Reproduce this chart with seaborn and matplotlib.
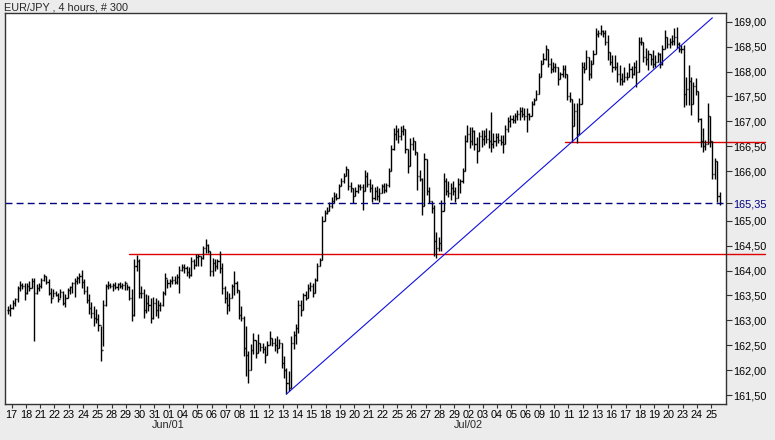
import numpy as np
import pandas as pd
import matplotlib
matplotlib.use("Agg")
import matplotlib.pyplot as plt
import matplotlib.transforms as mtransforms
import seaborn as sns

# EUR/JPY 4h bars (300)
highs = [
    163.29, 163.33, 163.40, 163.44, 163.70, 163.80, 163.76, 163.76, 163.76, 163.80,
    163.86, 163.86, 163.74, 163.76, 163.86, 163.94, 163.90, 163.84, 163.66, 163.64,
    163.60, 163.56, 163.64, 163.60, 163.54, 163.66, 163.70, 163.78, 163.86, 163.90,
    163.96, 164.02, 163.84, 163.70, 163.54, 163.36, 163.29, 163.23, 163.13, 162.89,
    163.40, 163.74, 163.80, 163.76, 163.76, 163.78, 163.76, 163.78, 163.76, 163.80,
    163.74, 163.70, 163.64, 164.24, 164.32, 164.24, 163.70, 163.64, 163.54, 163.50,
    163.44, 163.46, 163.44, 163.40, 163.36, 163.60, 163.96, 163.84, 163.84, 163.90,
    163.90, 163.94, 164.10, 164.14, 164.14, 164.10, 164.08, 164.28, 164.24, 164.34,
    164.34, 164.30, 164.50, 164.64, 164.54, 164.40, 164.26, 164.24, 164.24, 164.40,
    164.16, 163.70, 163.60, 163.56, 163.74, 164.00, 163.80, 163.62, 163.29, 163.09,
    162.89, 162.39, 162.53, 162.75, 162.60, 162.73, 162.55, 162.55, 162.48, 162.59,
    162.79, 162.65, 162.65, 162.69, 162.63, 162.55, 162.29, 162.04, 161.98, 162.69,
    162.79, 162.93, 163.40, 163.40, 163.56, 163.60, 163.74, 163.78, 163.76, 163.86,
    164.16, 164.26, 165.10, 165.21, 165.27, 165.37, 165.47, 165.57, 165.55, 165.75,
    165.87, 165.96, 166.10, 166.05, 165.79, 165.65, 165.67, 165.75, 165.75, 165.75,
    166.02, 165.98, 165.85, 165.75, 165.69, 165.71, 165.65, 165.75, 165.77, 165.77,
    166.06, 166.52, 166.86, 166.92, 166.86, 166.90, 166.92, 166.85, 166.45, 166.66,
    166.68, 166.60, 166.38, 166.02, 165.87, 166.36, 166.25, 165.67, 165.40, 165.31,
    164.77, 164.68, 165.41, 165.96, 165.87, 165.81, 165.77, 165.81, 165.67, 165.87,
    165.85, 166.06, 166.72, 166.92, 166.88, 166.88, 166.82, 166.68, 166.78, 166.82,
    166.82, 166.86, 166.82, 167.19, 166.76, 166.76, 166.76, 166.72, 166.72, 166.92,
    167.08, 167.12, 167.12, 167.16, 167.23, 167.29, 167.29, 167.27, 167.27, 167.16,
    167.41, 167.47, 167.63, 167.97, 168.23, 168.38, 168.54, 168.45, 168.27, 168.19,
    168.17, 168.10, 167.99, 168.13, 168.13, 167.95, 167.59, 167.45, 167.37, 167.37,
    167.47, 168.19, 168.19, 168.44, 168.30, 168.23, 168.44, 168.88, 168.84, 168.94,
    168.84, 168.84, 168.74, 168.40, 168.33, 168.33, 168.19, 168.13, 167.97, 168.09,
    167.99, 168.17, 168.11, 168.19, 168.23, 168.70, 168.70, 168.60, 168.48, 168.44,
    168.35, 168.44, 168.33, 168.40, 168.38, 168.54, 168.84, 168.70, 168.68, 168.74,
    168.88, 168.90, 168.60, 168.54, 168.54, 167.89, 168.13, 167.89, 167.79, 167.87,
    167.60, 167.06, 166.86, 166.62, 167.37, 167.10, 166.60, 166.26, 166.20, 165.57,
]
lows = [
    163.13, 163.09, 163.23, 163.29, 163.36, 163.60, 163.64, 163.40, 163.54, 163.60,
    163.66, 162.59, 163.54, 163.60, 163.66, 163.80, 163.74, 163.50, 163.34, 163.46,
    163.48, 163.36, 163.44, 163.30, 163.26, 163.44, 163.54, 163.56, 163.46, 163.74,
    163.76, 163.66, 163.54, 163.34, 163.13, 163.05, 162.89, 162.95, 162.79, 162.18,
    162.49, 163.28, 163.64, 163.66, 163.60, 163.64, 163.62, 163.66, 163.64, 163.62,
    163.62, 163.40, 162.99, 163.09, 164.00, 163.44, 163.44, 163.05, 163.15, 163.19,
    162.95, 163.03, 163.09, 163.05, 163.19, 163.28, 163.52, 163.66, 163.68, 163.74,
    163.74, 163.74, 163.56, 164.00, 163.96, 163.90, 163.86, 163.90, 164.04, 164.10,
    164.10, 164.10, 164.24, 164.36, 164.36, 163.90, 163.90, 164.00, 164.04, 163.96,
    163.54, 163.34, 163.13, 163.19, 163.45, 163.50, 163.56, 163.03, 162.99, 162.28,
    161.88, 161.74, 162.00, 162.33, 162.25, 162.35, 162.39, 162.35, 162.14, 162.30,
    162.50, 162.49, 162.39, 162.35, 162.45, 162.04, 161.84, 161.52, 161.58, 161.65,
    162.43, 162.53, 162.75, 163.09, 163.20, 163.40, 163.45, 163.60, 163.46, 163.55,
    163.80, 164.10, 164.22, 165.00, 165.13, 165.20, 165.25, 165.35, 165.41, 165.45,
    165.70, 165.77, 165.90, 165.61, 165.57, 165.35, 165.50, 165.55, 165.61, 165.21,
    165.60, 165.67, 165.57, 165.37, 165.41, 165.41, 165.37, 165.55, 165.55, 165.57,
    165.67, 166.00, 166.42, 166.62, 166.56, 166.62, 166.72, 166.36, 165.96, 166.10,
    166.42, 166.32, 165.61, 165.81, 165.11, 165.30, 165.51, 165.35, 165.15, 164.30,
    164.26, 164.40, 164.40, 165.20, 165.51, 165.47, 165.41, 165.51, 165.37, 165.45,
    165.55, 165.77, 166.00, 166.58, 166.46, 166.52, 166.42, 166.16, 166.40, 166.48,
    166.52, 166.56, 166.46, 166.38, 166.46, 166.50, 166.56, 166.52, 166.36, 166.55,
    166.78, 166.88, 166.96, 166.96, 167.02, 167.02, 167.08, 167.02, 166.78, 167.02,
    167.10, 167.33, 167.42, 167.55, 167.90, 168.15, 168.23, 168.09, 167.97, 167.99,
    167.99, 167.73, 167.85, 167.89, 167.87, 167.43, 167.39, 166.58, 166.90, 166.56,
    166.75, 167.35, 167.97, 168.05, 167.83, 167.87, 168.15, 168.35, 168.70, 168.74,
    168.70, 168.54, 168.23, 168.13, 167.99, 168.03, 167.79, 167.73, 167.73, 167.79,
    167.83, 167.90, 167.87, 167.93, 167.69, 168.00, 168.54, 168.19, 168.13, 168.03,
    168.13, 168.07, 168.09, 168.20, 168.07, 168.13, 168.45, 168.48, 168.48, 168.54,
    168.54, 168.48, 168.40, 168.38, 167.29, 167.33, 167.33, 167.12, 167.35, 167.53,
    166.98, 166.48, 166.38, 166.42, 166.55, 166.48, 165.85, 165.85, 165.37, 165.31,
]
closes = [
    163.20, 163.25, 163.35, 163.42, 163.65, 163.72, 163.70, 163.55, 163.70, 163.66,
    163.80, 163.55, 163.65, 163.70, 163.82, 163.90, 163.78, 163.55, 163.45, 163.55,
    163.52, 163.42, 163.58, 163.35, 163.45, 163.62, 163.68, 163.75, 163.80, 163.85,
    163.90, 163.78, 163.60, 163.40, 163.25, 163.15, 163.05, 163.02, 162.90, 162.40,
    163.30, 163.70, 163.72, 163.70, 163.72, 163.68, 163.74, 163.70, 163.72, 163.75,
    163.68, 163.45, 163.10, 164.10, 164.20, 163.55, 163.55, 163.20, 163.35, 163.30,
    163.05, 163.35, 163.20, 163.30, 163.30, 163.55, 163.85, 163.75, 163.80, 163.82,
    163.78, 163.88, 164.02, 164.08, 164.05, 163.98, 163.92, 164.20, 164.12, 164.28,
    164.30, 164.25, 164.45, 164.52, 164.40, 164.00, 164.15, 164.10, 164.20, 164.05,
    163.65, 163.45, 163.30, 163.45, 163.70, 163.75, 163.62, 163.10, 163.05, 162.45,
    162.30, 162.00, 162.40, 162.60, 162.35, 162.55, 162.47, 162.42, 162.30, 162.50,
    162.65, 162.55, 162.50, 162.45, 162.55, 162.15, 162.00, 161.75, 161.65, 162.55,
    162.70, 162.85, 163.30, 163.20, 163.50, 163.45, 163.65, 163.70, 163.55, 163.82,
    164.10, 164.22, 165.00, 165.15, 165.20, 165.30, 165.40, 165.50, 165.45, 165.70,
    165.80, 165.90, 166.05, 165.70, 165.65, 165.50, 165.60, 165.70, 165.68, 165.60,
    165.90, 165.75, 165.65, 165.45, 165.60, 165.50, 165.55, 165.70, 165.62, 165.72,
    166.00, 166.45, 166.75, 166.80, 166.70, 166.80, 166.85, 166.45, 166.10, 166.55,
    166.60, 166.38, 165.90, 165.85, 165.30, 166.25, 165.60, 165.40, 165.25, 164.60,
    164.45, 164.55, 165.20, 165.80, 165.60, 165.55, 165.65, 165.60, 165.45, 165.75,
    165.80, 166.00, 166.60, 166.75, 166.60, 166.80, 166.55, 166.40, 166.70, 166.65,
    166.70, 166.65, 166.60, 166.55, 166.60, 166.68, 166.62, 166.58, 166.55, 166.85,
    167.00, 167.05, 167.02, 167.10, 167.15, 167.20, 167.15, 167.10, 167.15, 167.10,
    167.35, 167.42, 167.55, 167.90, 168.15, 168.25, 168.45, 168.15, 168.05, 168.10,
    168.10, 167.85, 167.95, 168.05, 167.95, 167.50, 167.45, 166.90, 167.20, 166.75,
    167.35, 168.10, 168.05, 168.30, 167.95, 168.15, 168.35, 168.75, 168.78, 168.82,
    168.78, 168.60, 168.40, 168.20, 168.10, 168.10, 167.95, 167.85, 167.80, 167.90,
    167.90, 168.05, 167.95, 168.10, 168.00, 168.60, 168.60, 168.30, 168.25, 168.35,
    168.25, 168.15, 168.20, 168.35, 168.15, 168.45, 168.70, 168.55, 168.60, 168.62,
    168.70, 168.55, 168.45, 168.45, 167.55, 167.65, 167.80, 167.35, 167.70, 167.60,
    167.05, 166.60, 166.50, 166.55, 167.10, 166.60, 165.95, 166.20, 165.50, 165.35,
]

day_labels = ['17', '18', '21', '22', '23', '24', '25', '28', '29', '30',
              '31', '01', '04', '05', '06', '07', '08', '11', '12', '13',
              '14', '15', '18', '19', '20', '21', '22', '25', '26', '27',
              '28', '29', '02', '03', '04', '05', '06', '09', '10', '11',
              '12', '13', '16', '17', '18', '19', '20', '23', '24', '25']
month_labels = ['Jun/01', 'Jul/02']
month_day_index = [11, 32]
bars_per_day = 6

# support/resistance levels (price, first bar)
level_prices = [164.34, 166.58]
level_starts = [51, 234]
last_price = 165.35
trend_bars = [117, 296]
trend_prices = [161.52, 169.08]

bg = '#ececec'
sns.set_style('white')
plt.rcParams['font.family'] = ['Liberation Sans', 'DejaVu Sans']

df = pd.DataFrame({'high': highs, 'low': lows, 'close': closes})
df['open'] = df['close'].shift(1).fillna(df['close'].iloc[0])
df['bar'] = np.arange(len(df))

fig = plt.figure(figsize=(7.75, 4.4), dpi=100, facecolor=bg)
ax = fig.add_axes([4.5 / 775, 36 / 440, 721 / 775, 390.7 / 440])
ax.set_facecolor('white')

# OHLC bars
ax.vlines(df['bar'], df['low'], df['high'], color='black', lw=1.0)
ax.hlines(df['open'], df['bar'] - 0.45, df['bar'], color='black', lw=1.0)
ax.hlines(df['close'], df['bar'], df['bar'] + 0.45, color='black', lw=1.0)

# trend line
sns.lineplot(x=trend_bars, y=trend_prices, color='#1010e0', lw=0.8, ax=ax)

# horizontal levels, running past the price scale
for lvl, start in zip(level_prices, level_starts):
    ax.plot([start, 318], [lvl, lvl], color='#e00000', lw=1.0, clip_on=False, zorder=1)

ax.axhline(last_price, color='#000080', lw=1.0, linestyle=(0, (5, 3)))

ax.set_xlim(-1.5, 301.5)
ax.set_ylim(161.32, 169.17)

# price scale on the right; the last-price label replaces 165,50
yt = [v for v in np.arange(161.5, 169.01, 0.5) if abs(v - last_price) > 0.2] + [last_price]
ax.yaxis.tick_right()
ax.set_yticks(yt)
ax.set_yticklabels([f'{v:.2f}'.replace('.', ',') for v in yt])
ax.tick_params(axis='y', direction='out', length=4, width=0.8, pad=1.5,
               labelsize=7.8, right=True, left=False, colors='#333333',
               labelcolor='black')
ax.get_yticklabels()[-1].set_color('#000080')

xt = [1.5 + bars_per_day * k for k in range(len(day_labels))]
ax.set_xticks(xt)
ax.set_xticklabels(day_labels)
ax.tick_params(axis='x', direction='out', length=3, width=0.8, pad=1.5,
               labelsize=7.8, bottom=True, colors='#333333', labelcolor='black')

trans = mtransforms.blended_transform_factory(ax.transData, ax.transAxes)
for lab, idx in zip(month_labels, month_day_index):
    ax.text(xt[idx], -0.055, lab, transform=trans, ha='center', va='center',
            fontsize=7.8)

for sp in ax.spines.values():
    sp.set_visible(True)
    sp.set_color('#333333')
    sp.set_linewidth(1.0)

ax.set_xlabel('')
ax.set_ylabel('')
fig.text(4 / 775, 1 - 7.5 / 440, 'EUR/JPY , 4 hours, # 300', ha='left', va='center',
         fontsize=7.8)

fig.savefig('out.png', dpi=100, facecolor=bg)
